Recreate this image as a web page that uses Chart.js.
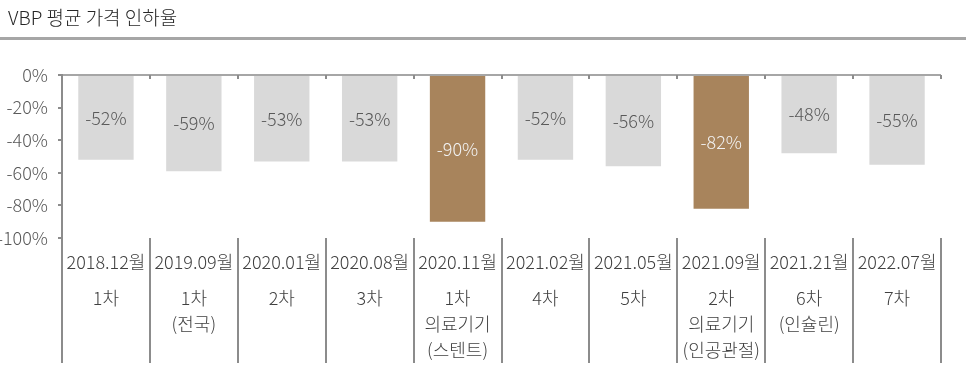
<!DOCTYPE html>
<html>
<head>
<meta charset="utf-8">
<script src="https://cdn.jsdelivr.net/npm/chart.js@4/dist/chart.umd.min.js"></script>
<style>
  body { margin: 0; background: #fff; }
  #wrap { width: 966px; height: 390px; position: relative; }
</style>
</head>
<body>
<div id="wrap"><canvas id="myChart"></canvas></div>
<script>
const title = 'VBP 평균 가격 인하율';
const dates = ['2018.12월', '2019.09월', '2020.01월', '2020.08월', '2020.11월', '2021.02월', '2021.05월', '2021.09월', '2021.21월', '2022.07월'];
const rounds = [
  ['1차'],
  ['1차', '(전국)'],
  ['2차'],
  ['3차'],
  ['1차', '의료기기', '(스텐트)'],
  ['4차'],
  ['5차'],
  ['2차', '의료기기', '(인공관절)'],
  ['6차', '(인슐린)'],
  ['7차'],
];
const cuts = [-52, -59, -53, -53, -90, -52, -56, -82, -48, -55];
const highlight = [false, false, false, false, true, false, false, true, false, false];

const FONT = "'Noto Sans CJK KR', 'Noto Sans', sans-serif";
const grey = '#d9d9d9';
const brown = '#a8845c';
const lineColor = '#8c8c8c';

// title, value labels, category labels and the small ticks on the 0% line
const decor = {
  id: 'decor',
  afterDraw(chart) {
    const ctx = chart.ctx;
    const area = chart.chartArea;
    const x = chart.scales.x;
    ctx.save();

    ctx.fillStyle = '#262626';
    ctx.font = '300 19px ' + FONT;
    ctx.textAlign = 'left';
    ctx.textBaseline = 'middle';
    ctx.fillText(title, 8, 18);
    ctx.fillStyle = '#a6a6a6';
    ctx.fillRect(0, 37, chart.width, 3);

    ctx.strokeStyle = lineColor;
    ctx.lineWidth = 2;
    const step = (x.getPixelForValue(1) - x.getPixelForValue(0));
    for (let i = 0; i <= dates.length; i++) {
      const px = Math.round(x.getPixelForValue(i) - step / 2);
      ctx.beginPath();
      ctx.moveTo(px, area.top);
      ctx.lineTo(px, area.top + 4);
      ctx.stroke();
    }

    const bars = chart.getDatasetMeta(0).data;
    ctx.font = '300 18px ' + FONT;
    ctx.textAlign = 'center';
    bars.forEach((bar, i) => {
      ctx.fillStyle = highlight[i] ? '#f2f2f2' : '#595959';
      ctx.fillText(cuts[i] + '%', bar.x, (bar.y + bar.base) / 2);
    });

    ctx.fillStyle = '#404040';
    dates.forEach((d, i) => {
      const cx = x.getPixelForValue(i);
      ctx.fillText(d, cx, 262);
      rounds[i].forEach((line, j) => {
        ctx.fillText(line, cx, 298 + j * 26);
      });
    });
    ctx.restore();
  }
};

new Chart(document.getElementById('myChart'), {
  type: 'bar',
  data: {
    labels: dates,
    datasets: [{
      data: cuts,
      backgroundColor: highlight.map(h => h ? brown : grey),
      barPercentage: 0.63,
      categoryPercentage: 1,
    }],
  },
  options: {
    responsive: true,
    maintainAspectRatio: false,
    animation: false,
    layout: { padding: { top: 75, right: 25, left: 0, bottom: 0 } },
    plugins: {
      legend: { display: false },
      tooltip: { enabled: false },
    },
    scales: {
      x: {
        position: 'bottom',
        ticks: { display: false },
        border: { display: false },
        grid: {
          offset: true,
          drawOnChartArea: false,
          drawTicks: true,
          tickLength: 125,
          color: lineColor,
          lineWidth: 2,
        },
        afterFit(scale) { scale.height = 152; },
      },
      y: {
        min: -100,
        max: 0,
        ticks: {
          stepSize: 20,
          padding: 10,
          color: '#595959',
          font: { family: FONT, size: 18, weight: '300' },
          callback: v => v + '%',
        },
        border: { display: true, color: lineColor, width: 2 },
        grid: {
          drawOnChartArea: true,
          color: c => c.tick && c.tick.value === 0 ? '#a6a6a6' : 'transparent',
          tickColor: lineColor,
          tickLength: 4,
          lineWidth: 2,
        },
        afterFit(scale) { scale.width = 62; },
      },
    },
  },
  plugins: [decor],
});
</script>
</body>
</html>
